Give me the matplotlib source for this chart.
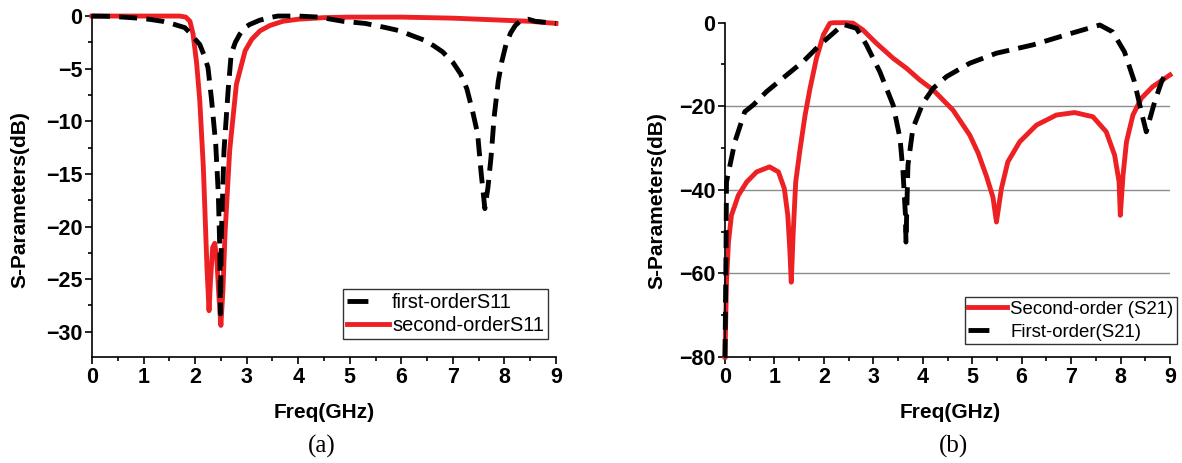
import matplotlib
matplotlib.use('Agg')
import matplotlib.pyplot as plt
from matplotlib.lines import Line2D
from matplotlib.ticker import MultipleLocator

plt.rcParams['font.family'] = ['Liberation Sans', 'DejaVu Sans']

RED = '#ED2024'

# (a) S11
freq_s11_first = [0, 0.3, 0.6, 0.9, 1.1, 1.37, 1.6, 1.8, 1.9, 2.0, 2.09, 2.18, 2.25, 2.32, 2.4, 2.45,
                  2.48, 2.49, 2.51, 2.56, 2.64, 2.7, 2.78, 2.87, 2.96, 3.06, 3.25, 3.45, 3.6, 4.0, 4.4,
                  4.87, 5.3, 5.7, 5.97, 6.23, 6.45, 6.62, 6.8, 7.0, 7.15, 7.27, 7.38, 7.48, 7.55, 7.62,
                  7.68, 7.74, 7.8, 7.88, 7.95, 8.03, 8.12, 8.21, 8.3, 8.46, 8.6, 8.8, 9.0]
s11_first = [0, -0.02, -0.1, -0.2, -0.3, -0.5, -0.8, -1.1, -1.6, -2.2, -2.7, -3.8, -4.9, -8, -12.2, -16.9,
             -22.3, -28.3, -20.7, -12.8, -7.1, -3.6, -2.5, -1.7, -1.1, -0.8, -0.4, -0.15, 0, 0, -0.1,
             -0.5, -0.7, -1.1, -1.4, -1.9, -2.3, -2.8, -3.4, -4.4, -5.5, -6.9, -9, -11.2, -15, -18.3,
             -16.3, -13.4, -9.6, -6.2, -4.3, -2.7, -1.6, -0.9, -0.5, -0.3, -0.5, -0.6, -0.7]

freq_s11_second = [0, 1.0, 1.7, 1.82, 1.9, 1.96, 2.03, 2.09, 2.16, 2.23, 2.27, 2.3, 2.34, 2.38, 2.42,
                   2.46, 2.5, 2.54, 2.58, 2.67, 2.8, 2.97, 3.1, 3.26, 3.45, 3.7, 4.0, 4.5, 5.0, 6.0,
                   7.0, 8.0, 8.5, 9.0]
s11_second = [0, 0, 0, -0.1, -0.5, -1.7, -4.5, -8, -14.4, -23.9, -28, -25, -22, -21.6, -23,
              -26.5, -29.4, -26, -20.7, -12.8, -6.5, -3.3, -2.2, -1.4, -0.9, -0.5, -0.3, -0.15, -0.1, -0.1,
              -0.2, -0.4, -0.5, -0.7]

# (b) S21
freq_s21_second = [0, 0.03, 0.07, 0.13, 0.27, 0.44, 0.64, 0.9, 1.08, 1.2, 1.27, 1.31, 1.34, 1.38, 1.43,
                   1.52, 1.62, 1.72, 1.85, 1.99, 2.12, 2.2, 2.45, 2.59, 2.79, 3.06, 3.4, 3.67, 3.94,
                   4.21, 4.61, 4.95, 5.12, 5.29, 5.42, 5.49, 5.59, 5.72, 5.96, 6.3, 6.7, 7.07, 7.44,
                   7.71, 7.88, 7.97, 7.995, 8.05, 8.12, 8.25, 8.42, 8.65, 9.0]
s21_second = [-80, -62.1, -52.5, -46.1, -41.3, -38.1, -35.7, -34.5, -35.7, -39.7, -46.1, -54.1, -62.1, -50.1, -38.1,
              -30.1, -22.1, -15.7, -8.5, -2.9, -0.15, 0, 0, -0.1, -1.75, -4.9, -8.5, -10.9, -13.7,
              -16.1, -20.9, -26.9, -31.2, -36.8, -41.8, -47.7, -39.7, -33.3, -28.5, -24.5, -22.1, -21.5, -22.5,
              -26.1, -31.7, -38.1, -46.1, -36.5, -28.5, -22.1, -18.1, -15.3, -12.5]

freq_s21_first = [0, 0.02, 0.03, 0.2, 0.4, 0.57, 0.84, 1.25, 1.58, 1.92, 2.19, 2.39, 2.66, 2.86, 3.13, 3.4,
                  3.54, 3.6, 3.65, 3.66, 3.7, 3.8, 4.0, 4.21, 4.48, 4.95, 5.49, 6.23, 6.9, 7.58, 7.84,
                  8.08, 8.28, 8.42, 8.52, 8.69, 8.83, 8.9]
s21_first = [-80, -55, -38.1, -28.5, -21.3, -19.7, -16.5, -12.5, -9.3, -5.3, -2.5, -0.4, -1.35, -5.3, -11.7, -19.7,
             -27.7, -35.7, -46.1, -52.5, -34.1, -25.3, -19.3, -15.7, -12.9, -9.7, -7.3, -5.3, -2.9, -0.55, -2.2,
             -7, -14.1, -21.3, -26.1, -18.9, -14.1, -12.5]

DASH = (3.7, 1.9)


def style_axes(ax, ymajor, yminor):
    # only left and bottom axis lines, ticks pointing outward
    for side in ['top', 'right']:
        ax.spines[side].set_visible(False)
    for side in ['left', 'bottom']:
        ax.spines[side].set_linewidth(1.2)
    ax.set_xlim(0, 9)
    ax.xaxis.set_major_locator(MultipleLocator(1))
    ax.xaxis.set_minor_locator(MultipleLocator(0.5))
    ax.yaxis.set_major_locator(MultipleLocator(ymajor))
    ax.yaxis.set_minor_locator(MultipleLocator(yminor))
    ax.tick_params(which='major', direction='out', length=5, width=1.2, labelsize=15.5, pad=2)
    ax.tick_params(which='minor', direction='out', length=3, width=1.2)
    for lab in ax.get_xticklabels() + ax.get_yticklabels():
        lab.set_fontweight('bold')


fig = plt.figure(figsize=(11.82, 4.63), dpi=100)

# ---- (a)
ax1 = fig.add_axes([92 / 1182, 106 / 463, 464 / 1182, 342 / 463])
ax1.plot(freq_s11_second, s11_second, color=RED, lw=3.5, clip_on=False, zorder=2)
ax1.plot(freq_s11_first, s11_first, color='black', lw=3.5, dashes=DASH, clip_on=False, zorder=3)
ax1.set_ylim(-32.4, 0.1)
style_axes(ax1, 5, 2.5)
h_black = Line2D([], [], color='black', lw=3.5, dashes=(4.3, 20))
h_red = Line2D([], [], color=RED, lw=3.5)
leg1 = ax1.legend([h_black, h_red], ['first-orderS11', 'second-orderS11'], loc='lower right',
                  bbox_to_anchor=(0.983, 0.052), borderaxespad=0, fontsize=14.4, frameon=True,
                  fancybox=False, edgecolor='black', handlelength=2.1, handletextpad=0.15,
                  labelspacing=0.22, borderpad=0.2)
leg1.get_frame().set_linewidth(1.0)

# ---- (b)
ax2 = fig.add_axes([725 / 1182, 106 / 463, 445 / 1182, 334.3 / 463])
for g in [-20, -40, -60]:
    ax2.axhline(g, color='#8c8c8c', lw=1.0, zorder=1)
ax2.plot(freq_s21_second, s21_second, color=RED, lw=3.5, clip_on=False, zorder=2)
ax2.plot(freq_s21_first, s21_first, color='black', lw=3.5, dashes=DASH, clip_on=False, zorder=3)
ax2.set_ylim(-80, 0)
style_axes(ax2, 20, 10)
h_red2 = Line2D([], [], color=RED, lw=3.5)
h_black2 = Line2D([], [], color='black', lw=3.5, dashes=(4.3, 20))
leg2 = ax2.legend([h_red2, h_black2], ['Second-order (S21)', 'First-order(S21)'], loc='lower right',
                  bbox_to_anchor=(1.016, 0.038), borderaxespad=0, fontsize=13.4, frameon=True,
                  fancybox=False, edgecolor='black', handlelength=2.1, handletextpad=0.15,
                  labelspacing=0.3, borderpad=0.2)
leg2.get_frame().set_linewidth(1.0)

# axis titles and panel captions
fig.text(324 / 1182, 1 - 412 / 463, 'Freq(GHz)', ha='center', va='center', fontsize=15, fontweight='bold')
fig.text(950 / 1182, 1 - 412 / 463, 'Freq(GHz)', ha='center', va='center', fontsize=15, fontweight='bold')
fig.text(20 / 1182, 1 - 200 / 463, 'S-Parameters(dB)', ha='center', va='center', rotation=90,
         fontsize=15, fontweight='bold')
fig.text(657 / 1182, 1 - 201 / 463, 'S-Parameters(dB)', ha='center', va='center', rotation=90,
         fontsize=15, fontweight='bold')
fig.text(322 / 1182, 1 - 446 / 463, '(a)', ha='center', va='center', fontsize=18, family='Liberation Serif')
fig.text(953 / 1182, 1 - 446 / 463, '(b)', ha='center', va='center', fontsize=18, family='Liberation Serif')

plt.savefig('out.png', dpi=100)
plt.close()
